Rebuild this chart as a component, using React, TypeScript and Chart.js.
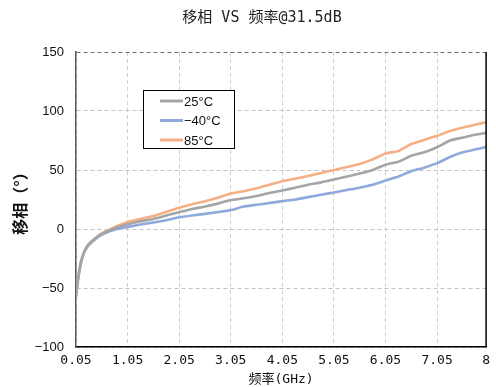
import React, { useEffect, useRef } from 'react';
import { Chart, registerables } from 'chart.js';

Chart.register(...registerables);

// Frequency sweep points (GHz)
const freqGHz = [
  0.05, 0.08, 0.11, 0.15, 0.2, 0.25, 0.3, 0.4, 0.5, 0.6, 0.7, 0.85,
  1.05, 1.3, 1.55, 1.8, 2.05, 2.3, 2.55, 2.8, 3.05, 3.3, 3.55, 3.8,
  4.05, 4.3, 4.55, 4.8, 5.05, 5.3, 5.55, 5.8, 6.05, 6.3, 6.55, 6.8,
  7.05, 7.3, 7.55, 7.8, 8.0,
];

// Phase shift (degrees) at each temperature
const phase25C = [
  -57, -45.5, -36.5, -27.5, -20.5, -16, -13, -9, -5.5, -3, -1, 1.5,
  4, 6.5, 8.5, 11.5, 14.2, 17, 19, 21.5, 24.5, 26, 28, 30.5,
  32.6, 35, 37.5, 39.5, 42, 44.5, 47, 50, 54.5, 57, 62, 65,
  69.3, 75, 77.5, 80, 81.5,
];
const phaseMinus40C = [
  -57.5, -46, -37, -28, -21, -16.5, -13.5, -9.5, -6, -3.8, -2, 0,
  1.8, 3.8, 5.5, 7.5, 10, 11.5, 12.8, 14.3, 16, 19, 20.5, 22,
  23.6, 25, 27, 29, 31, 33, 35, 37.5, 41, 44.5, 49, 52,
  55.8, 61, 65, 67.5, 69.5,
];
const phase85C = [
  -56.5, -45, -35.5, -27, -20, -15.5, -12.5, -8.5, -5, -2.5, -0.5, 2.5,
  6, 8.5, 11, 14.5, 18, 21, 23.5, 26.5, 30, 32, 34.5, 37.5,
  40.5, 42.5, 45, 47.5, 50, 52.5, 55, 59, 64, 66, 72, 75.5,
  79, 83, 86, 88.5, 90.5,
];

const seriesLabels = ['25°C', '−40°C', '85°C'];
const seriesColors = ['#A5A5A5', '#8EA9DB', '#F4AF84'];
const seriesValues = [phase25C, phaseMinus40C, phase85C];

const xTickValues = [0.05, 1.05, 2.05, 3.05, 4.05, 5.05, 6.05, 7.05, 8];
const yMin = -100;
const yMax = 150;
const yStep = 50;

const chartTitle = '移相 VS 频率@31.5dB';
const xTitle = '频率(GHz)';
const yTitle = '移相（°）';

const monoCjk = "'DejaVu Sans Mono', 'Noto Sans CJK SC', monospace";
const sans = "'Liberation Sans', Arial, sans-serif";

// Draws the chart title, the framed legend and the right-hand frame line.
const decorations = {
  id: 'decorations',
  afterDraw(chart: any) {
    const { ctx, chartArea } = chart;
    ctx.save();

    ctx.strokeStyle = '#000';
    ctx.lineWidth = 1.5;
    ctx.beginPath();
    ctx.moveTo(chartArea.right, chartArea.top);
    ctx.lineTo(chartArea.right, chartArea.bottom);
    ctx.stroke();

    ctx.font = `15px ${monoCjk}`;
    ctx.fillStyle = '#222';
    ctx.textAlign = 'center';
    ctx.textBaseline = 'middle';
    ctx.fillText(chartTitle, 262, 18);

    const bx = chartArea.left + 67;
    const by = chartArea.top + 38;
    const bw = 91;
    const bh = 58;
    ctx.fillStyle = '#fff';
    ctx.fillRect(bx, by, bw, bh);
    ctx.strokeStyle = '#000';
    ctx.lineWidth = 1;
    ctx.strokeRect(bx + 0.5, by + 0.5, bw, bh);

    ctx.font = `13px ${sans}`;
    ctx.textAlign = 'left';
    chart.data.datasets.forEach((ds: any, i: number) => {
      const y = by + 11 + i * 19.5;
      ctx.strokeStyle = ds.borderColor;
      ctx.lineWidth = 3;
      ctx.beginPath();
      ctx.moveTo(bx + 17, y);
      ctx.lineTo(bx + 40, y);
      ctx.stroke();
      ctx.fillStyle = '#111';
      ctx.fillText(ds.label, bx + 41, y + 1);
    });

    ctx.restore();
  },
};

export default function App() {
  const canvasRef = useRef<HTMLCanvasElement | null>(null);

  useEffect(() => {
    const canvas = canvasRef.current;
    if (!canvas) return;

    const datasets = seriesLabels.map((label, i) => ({
      label,
      data: freqGHz.map((f, j) => ({ x: f, y: seriesValues[i][j] })),
      borderColor: seriesColors[i],
      backgroundColor: seriesColors[i],
      borderWidth: 2.6,
      pointRadius: 0,
      tension: 0.15,
      fill: false,
    }));

    const chart = new Chart(canvas, {
      type: 'line',
      data: { datasets },
      options: {
        animation: false,
        responsive: false,
        maintainAspectRatio: false,
        layout: { padding: { top: 52, right: 5, left: 0, bottom: 0 } },
        plugins: {
          legend: { display: false },
          title: { display: false },
          tooltip: { enabled: false },
        },
        scales: {
          x: {
            type: 'linear',
            min: 0.05,
            max: 8,
            afterBuildTicks: (scale: any) => {
              scale.ticks = xTickValues.map((v) => ({ value: v }));
            },
            afterFit: (scale: any) => {
              scale.height = 40;
            },
            ticks: {
              autoSkip: false,
              maxRotation: 0,
              padding: 6,
              color: '#111',
              font: { family: monoCjk, size: 13 },
              callback: (v: any) => (v === 8 ? '8' : Number(v).toFixed(2)),
            },
            grid: {
              color: '#D0D0D0',
              lineWidth: 1,
              drawTicks: false,
            },
            border: { display: true, color: '#000', width: 1.5, dash: [4, 3] },
            title: {
              display: true,
              text: xTitle,
              color: '#111',
              font: { family: monoCjk, size: 13 },
              padding: { top: 0, bottom: 0 },
            },
          },
          y: {
            type: 'linear',
            min: yMin,
            max: yMax,
            ticks: {
              stepSize: yStep,
              padding: 12,
              color: '#111',
              font: { family: sans, size: 13 },
              callback: (v: any) => String(v).replace('-', '−'),
            },
            afterFit: (scale: any) => {
              scale.width = 76;
            },
            grid: {
              color: (c: any) => (c.tick && c.tick.value === yMax ? '#6E6E6E' : '#C4C4C4'),
              lineWidth: 1,
              drawTicks: false,
            },
            border: { display: true, color: '#595959', width: 1.5, dash: [4, 3] },
            title: {
              display: true,
              text: yTitle,
              color: '#111',
              font: { family: "'Noto Sans CJK SC', sans-serif", size: 16, weight: 'bold' },
              padding: { top: 10, bottom: 0 },
            },
          },
        },
      },
      plugins: [decorations],
    } as any);

    return () => chart.destroy();
  }, []);

  return (
    <div style={{ position: 'absolute', left: 0, top: 0, width: 496, height: 387, background: '#fff' }}>
      <canvas ref={canvasRef} width={496} height={387} />
    </div>
  );
}
